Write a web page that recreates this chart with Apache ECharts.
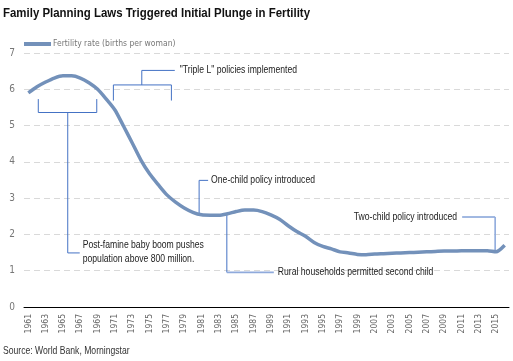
<!DOCTYPE html>
<html>
<head>
<meta charset="utf-8">
<script src="https://cdn.jsdelivr.net/npm/echarts@6/dist/echarts.min.js"></script>
<style>html,body{margin:0;padding:0;background:#fff}#c{width:513px;height:361px}</style>
</head>
<body>
<div id="c"></div>
<script>
var years = [];
for (var yy = 1961; yy <= 2016; yy++) years.push(String(yy));
var fertility = [
  5.90, 6.07, 6.20, 6.31, 6.37, 6.37, 6.31, 6.18, 6.00, 5.73,
  5.43, 4.98, 4.52, 4.05, 3.67, 3.37, 3.09, 2.89, 2.73, 2.61,
  2.54, 2.53, 2.53, 2.57, 2.63, 2.67, 2.67, 2.63, 2.54, 2.42,
  2.24, 2.08, 1.95, 1.78, 1.67, 1.60, 1.52, 1.49, 1.45, 1.44,
  1.46, 1.47, 1.48, 1.49, 1.50, 1.51, 1.52, 1.53, 1.54, 1.54,
  1.55, 1.55, 1.55, 1.55, 1.52, 1.70
];
var seriesName = 'Fertility rate (births per woman)';
var titleText = 'Family Planning Laws Triggered Initial Plunge in Fertility';
var sourceText = 'Source: World Bank, Morningstar';
var noteBoom = ['Post-famine baby boom pushes', 'population above 800 million.'];
var noteTripleL = '"Triple L" policies implemented';
var noteOneChild = 'One-child policy introduced';
var noteRural = 'Rural households permitted second child';
var noteTwoChild = 'Two-child policy introduced';

var COND = '"DejaVu Sans Condensed", sans-serif';
var ARIAL = '"Liberation Sans", Arial, sans-serif';
var chart = echarts.init(document.getElementById('c'), null, {renderer: 'canvas'});
chart.setOption({
  animation: false,
  backgroundColor: '#fff',
  legend: {
    left: 19, top: 33, itemWidth: 27, itemHeight: 4, icon: 'rect', itemGap: 2,
    textStyle: {fontFamily: COND, fontSize: 8.5, color: '#777', padding: [0,0,0,-3], lineHeight: 12},
    data: [seriesName]
  },
  grid: {left: 24, right: 4, top: 53, bottom: 54, containLabel: false},
  xAxis: {
    type: 'category', data: years, boundaryGap: true,
    axisLine: {lineStyle: {color: '#000', width: 1}},
    axisTick: {show: false},
    axisLabel: {interval: 1, rotate: 90, fontFamily: COND, fontSize: 8.5, color: '#666', margin: 7}
  },
  yAxis: {
    type: 'value', min: 0, max: 7, interval: 1,
    axisLine: {show: false}, axisTick: {show: false},
    axisLabel: {fontFamily: COND, fontSize: 10, color: '#777', margin: 9},
    splitLine: {lineStyle: {color: '#d9d9d9', type: [6, 4], width: 1}}
  },
  series: [{
    name: seriesName, type: 'line', data: fertility, showSymbol: false, smooth: 0.25,
    lineStyle: {color: '#7391ba', width: 3.5}, itemStyle: {color: '#7391ba'}
  }]
});

function px(yearF) {
  var i0 = Math.floor(yearF - 1961), f = (yearF - 1961) - i0;
  var a = chart.convertToPixel({xAxisIndex: 0}, years[i0]);
  var b = chart.convertToPixel({xAxisIndex: 0}, years[Math.min(i0 + 1, years.length - 1)]);
  if (i0 + 1 >= years.length) b = a + (a - chart.convertToPixel({xAxisIndex: 0}, years[i0 - 1]));
  return a + f * (b - a);
}
function py(v) { return chart.convertToPixel({yAxisIndex: 0}, v); }
var BLUE = '#4472c4', LBLUE = '#8faadc', TXT = '#222';
function pl(pts, color, w) {
  return {type: 'polyline', silent: true, shape: {points: pts}, style: {stroke: color || BLUE, lineWidth: w || 1, fill: null}};
}
function tx(t, x, y, align, size, weight, color, sx) {
  return {type: 'text', silent: true, x: x, y: y, scaleX: sx || 0.82, originX: 0, originY: 0,
    style: {text: t, x: 0, y: 0, font: (weight || 'normal') + ' ' + (size || 10.5) + 'px ' + ARIAL,
      fill: color || TXT, textAlign: align || 'left', textVerticalAlign: 'middle'}};
}
var g = [];
g.push(tx(titleText, 3, 13, 'left', 13, 'bold', '#111', 0.88));
// baby boom bracket
var bl = px(1962.15), br = px(1968.9), bt = py(5.73), bb = py(5.36), bs = px(1965.55), bLow = py(1.49);
g.push(pl([[bl, bt], [bl, bb], [br, bb], [br, bt]]));
g.push(pl([[bs, bb], [bs, bLow], [bs + 12, bLow]]));
g.push(tx(noteBoom[0], bs + 15, bLow - 8));
g.push(tx(noteBoom[1], bs + 15, bLow + 6));
// triple L bracket
var tl = px(1970.82), tr = px(1977.52), tb = py(5.69), tt = py(6.12), ts = px(1974.1), tTop = py(6.52);
g.push(pl([[tl, tb], [tl, tt], [tr, tt], [tr, tb]]));
g.push(pl([[ts, tt], [ts, tTop], [ts + 33, tTop]]));
g.push(tx(noteTripleL, ts + 38, tTop));
// one child
var ox = px(1980.72), oTop = py(3.49);
g.push(pl([[ox, py(2.52)], [ox, oTop], [ox + 9, oTop]]));
g.push(tx(noteOneChild, ox + 12, oTop));
// rural
var rx = px(1983.92), rLow = py(0.953);
g.push(pl([[rx, py(2.54)], [rx, rLow]]));
g.push(pl([[rx, rLow], [rx + 47, rLow]], LBLUE, 1.6));
g.push(tx(noteRural, rx + 51, rLow));
// two child
var wx = px(2014.9), wTop = py(2.48);
g.push(pl([[wx - 33, wTop], [wx, wTop]]));
g.push(pl([[wx, wTop], [wx, py(1.53)]], LBLUE, 1.6));
g.push(tx(noteTwoChild, wx - 38, wTop, 'right'));
// source
g.push(tx(sourceText, 3, 351, 'left', 10.5, 'normal', '#333'));
chart.setOption({graphic: g});
</script>
</body>
</html>
